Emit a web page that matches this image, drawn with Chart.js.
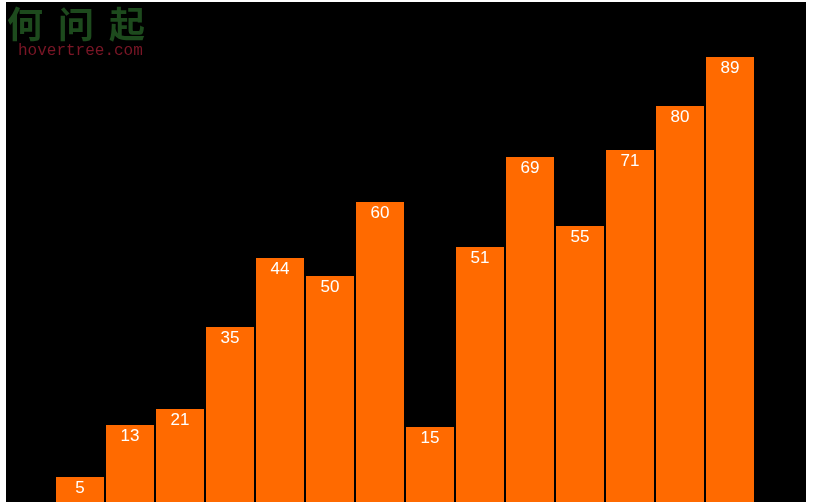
<!DOCTYPE html>
<html>
<head>
<meta charset="utf-8">
<title>hovertree bars</title>
<script src="https://cdn.jsdelivr.net/npm/chart.js@4/dist/chart.umd.min.js"></script>
<style>
    body { margin: 0; background: #fff; }
    #wrap { position: absolute; left: 6px; top: 2px; width: 800px; height: 500px; background: #000; overflow: hidden; }
    #myChart { position: absolute; left: -1px; top: 0; }
    #logo { position: absolute; left: 7px; top: 2px; pointer-events: none; }
    #logoCn { font-family: "Noto Sans CJK SC", sans-serif; font-weight: bold; font-size: 36px; color: #1d4a1d; letter-spacing: 15px; line-height: 40px; }
    #logoEn { font-family: "Liberation Mono", monospace; font-size: 16px; color: #7a1626; margin-left: 11px; line-height: 16px; margin-top: 1px; }
</style>
</head>
<body>
<div id="wrap">
    <canvas id="myChart" width="800" height="500"></canvas>
</div>
<div id="logo">
    <div id="logoCn">何问起</div>
    <div id="logoEn">hovertree.com</div>
</div>
<script>
var labels = ["", "1", "2", "3", "4", "5", "6", "7", "8", "9", "10", "11", "12", "13", "14", ""];
// value printed on each bar
var values = [null, 5, 13, 21, 35, 44, 50, 60, 15, 51, 69, 55, 71, 80, 89, null];
// bar heights as drawn in the picture
var heights = [null, 5, 15.4, 18.6, 35, 48.8, 45.2, 60, 15, 51, 69, 55.2, 70.4, 79.2, 89, null];

var barLabels = {
    id: "barLabels",
    afterDatasetsDraw: function (chart) {
        var ctx = chart.ctx;
        var meta = chart.getDatasetMeta(0);
        ctx.save();
        ctx.fillStyle = "#fff";
        ctx.font = "17px Arial, 'Liberation Sans', sans-serif";
        ctx.textAlign = "center";
        ctx.textBaseline = "middle";
        meta.data.forEach(function (bar, i) {
            if (values[i] === null) return;
            ctx.fillText(values[i], bar.x, bar.y + 11);
        });
        ctx.restore();
    }
};

var ctx = document.getElementById("myChart").getContext("2d");
var myChart = new Chart(ctx, {
    type: "bar",
    data: {
        labels: labels,
        datasets: [
            {
                data: heights,
                backgroundColor: "#ff6a00",
                borderWidth: 0,
                barPercentage: 0.96,
                categoryPercentage: 1
            }
        ]
    },
    options: {
        responsive: false,
        animation: false,
        layout: { padding: 0 },
        plugins: {
            legend: { display: false },
            tooltip: { enabled: false }
        },
        scales: {
            x: { display: false },
            y: { display: false, min: 0, max: 100 }
        }
    },
    plugins: [barLabels]
});
</script>
</body>
</html>
